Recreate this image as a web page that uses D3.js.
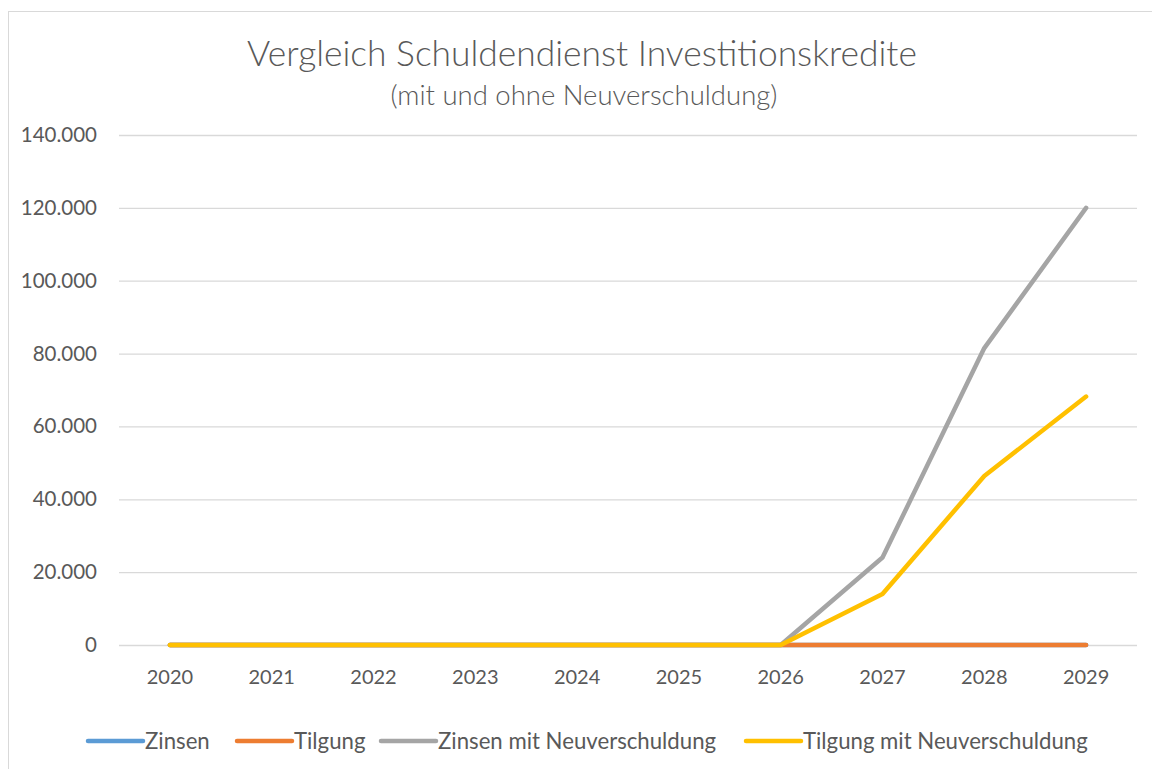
<!DOCTYPE html>
<html><head><meta charset="utf-8">
<script src="https://cdn.jsdelivr.net/npm/d3@7"></script>
<style>body{margin:0;background:#fff}svg{display:block}text{font-family:Lato,"Open Sans",sans-serif;fill:#595959}</style>
</head><body><svg id="c" width="1152" height="769"></svg>
<script>
const years = ["2020","2021","2022","2023","2024","2025","2026","2027","2028","2029"];
const zinsen = [0,0,0,0,0,0,0,0,0,0];
const tilgung = [0,0,0,0,0,0,0,0,0,0];
const zinsenNeu = [0,0,0,0,0,0,0,24000,81500,120000];
const tilgungNeu = [0,0,0,0,0,0,0,14000,46400,68200];
const yTicks = [0,20000,40000,60000,80000,100000,120000,140000];
const seriesNames = ["Zinsen","Tilgung","Zinsen mit Neuverschuldung","Tilgung mit Neuverschuldung"];
const colors = ["#5B9BD5","#ED7D31","#A5A5A5","#FFC000"];
const seriesVals = [zinsen,tilgung,zinsenNeu,tilgungNeu];

const svg = d3.select("#c");
svg.append("rect").attr("x",8.5).attr("y",11.5).attr("width",1160).attr("height",780)
  .attr("fill","#fff").attr("stroke","#d9d9d9").attr("stroke-width",1);

const x = d3.scaleBand().domain(years).range([119,1137]);
const y = d3.scaleLinear().domain([0,140000]).range([645,135]);

svg.append("text").attr("x",582).attr("y",66).attr("text-anchor","middle")
  .style("font-size","35.4px").style("font-weight","300").text("Vergleich Schuldendienst Investitionskredite");
svg.append("text").attr("x",584).attr("y",105).attr("text-anchor","middle")
  .style("font-size","27.5px").style("font-weight","300").text("(mit und ohne Neuverschuldung)");

const fmt = v => d3.format(",")(v).replace(/,/g,".");
const gy = svg.append("g").attr("transform","translate(119,0)")
  .call(d3.axisLeft(y).tickValues(yTicks).tickSize(-1018).tickFormat(fmt).tickPadding(22));
gy.select(".domain").remove();
gy.selectAll("line").attr("stroke","#d9d9d9").attr("stroke-width",1.3);
gy.selectAll("text").style("font-size","20.5px").style("font-family","Lato,sans-serif").attr("fill","#595959");

const gx = svg.append("g").attr("transform","translate(0,645)")
  .call(d3.axisBottom(x).tickSize(0).tickPadding(25));
gx.select(".domain").remove();
gx.selectAll("text").style("font-size","20px").style("font-family","Lato,sans-serif").attr("fill","#595959");

const line = d3.line().x((d,i)=>x(years[i])+x.bandwidth()/2).y(d=>y(d));
seriesVals.forEach((vals,k)=>{
  svg.append("path").datum(vals).attr("d",line).attr("fill","none")
    .attr("stroke",colors[k]).attr("stroke-width",4.5)
    .attr("stroke-linecap","round").attr("stroke-linejoin","round");
});

const legX = [88,237,381,746];
const lg = svg.append("g");
seriesNames.forEach((n,k)=>{
  lg.append("line").attr("x1",legX[k]).attr("x2",legX[k]+55).attr("y1",741).attr("y2",741)
    .attr("stroke",colors[k]).attr("stroke-width",4.5).attr("stroke-linecap","round");
  lg.append("text").attr("x",legX[k]+57).attr("y",741).attr("dy","0.35em")
    .style("font-size","22.2px").text(n);
});
</script></body></html>
